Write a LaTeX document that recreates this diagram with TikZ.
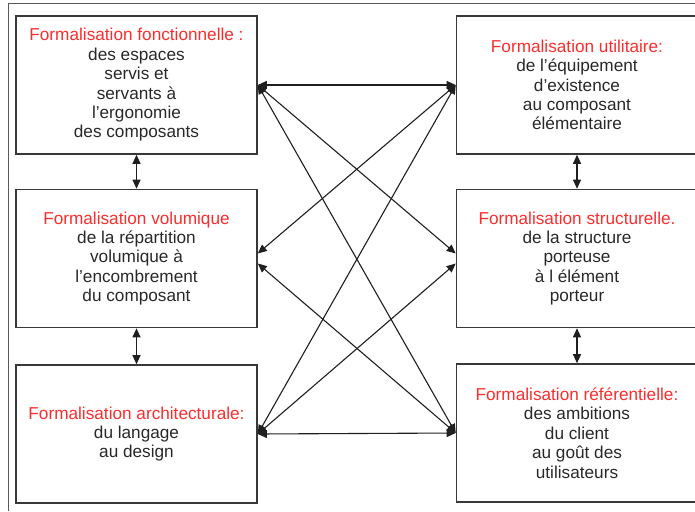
\documentclass[tikz,border=0pt]{standalone}
\usepackage{fontspec}
\setmainfont{Liberation Sans}
\usepackage{xcolor}
\usetikzlibrary{arrows.meta,calc}

\definecolor{titrouge}{RGB}{250,45,45}
\definecolor{textgris}{RGB}{40,40,40}
\tikzset{
  formbox/.style={draw=black!78, line width=1.6pt, minimum width=241pt,
    minimum height=138pt, inner sep=0pt, align=center, text=textgris,
    font=\fontsize{17.2}{19.4}\selectfont},
  liaison/.style={black!88, line width=1.1pt,
    {Triangle[length=9pt,width=8pt]}-{Triangle[length=9pt,width=8pt]}}
}
\newcommand\titre[1]{\textcolor{titrouge}{#1}}

\begin{document}
\begin{tikzpicture}[x=1pt,y=-1pt]
\useasboundingbox (0,0) rectangle (695,511);

% cadre
\draw[black!65, line width=1.6pt] (8.5,511) -- (8.5,3.5) -- (695,3.5);

% colonne gauche
\node[formbox] (fonc) at (136.5,85) {\titre{Formalisation fonctionnelle :}\\des espaces\\servis et\\servants à\\l'ergonomie\\des composants};
\node[formbox] (volu) at (136.5,258.5) {\titre{Formalisation volumique}\\de la répartition\\volumique à\\l'encombrement\\du composant};
\node[formbox] (archi) at (136.5,434) {\titre{Formalisation architecturale:}\\du langage\\au design};

% colonne droite
\node[formbox] (util) at (577,85) {\titre{Formalisation utilitaire:}\\de l'équipement\\d'existence\\au composant\\élémentaire};
\node[formbox] (struc) at (577,258.5) {\titre{Formalisation structurelle.}\\de la structure\\porteuse\\à l élément\\porteur};
\node[formbox] (refer) at (577,433) {\titre{Formalisation référentielle:}\\des ambitions\\du client\\au goût des\\utilisateurs};

% liaisons verticales
\draw[liaison] (fonc) -- (volu);
\draw[liaison] (volu) -- (archi);
\draw[liaison] (util) -- (struc);
\draw[liaison] (struc) -- (refer);

% liaisons croisees
\draw[liaison] (fonc.east) -- (util.west);
\draw[liaison] (fonc.east) -- ([yshift=5pt]struc.west);
\draw[liaison] (fonc.east) -- (refer.west);
\draw[liaison] ([yshift=5pt]volu.east) -- (util.west);
\draw[liaison] ([yshift=-5pt]volu.east) -- (refer.west);
\draw[liaison] (archi.east) -- (util.west);
\draw[liaison] (archi.east) -- ([yshift=-5pt]struc.west);
\draw[liaison] (archi.east) -- (refer.west);

\end{tikzpicture}
\end{document}
